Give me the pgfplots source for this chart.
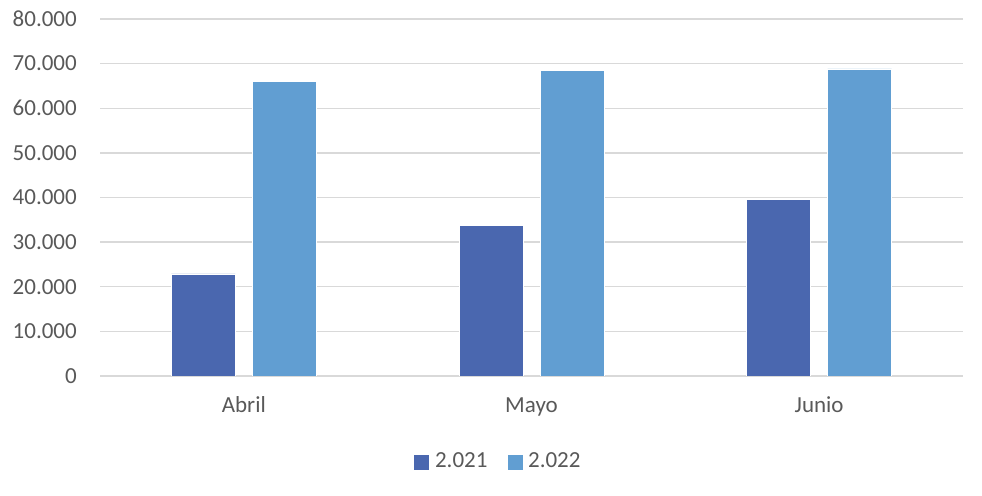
\documentclass[border=0pt]{standalone}
\usepackage{pgfplots}
\pgfplotsset{compat=1.18}
\usepackage{fontspec}
\setmainfont{Carlito}

\definecolor{cA}{HTML}{4A67AF}
\definecolor{cB}{HTML}{619ED2}
\definecolor{gridc}{HTML}{D9D9D9}
\definecolor{txt}{HTML}{595959}

\begin{document}
\begin{tikzpicture}
\useasboundingbox (0,0) rectangle (982bp,496bp);
\begin{axis}[
    at={(100bp,120bp)}, anchor=south west,
    scale only axis,
    width=863bp, height=357bp,
    ybar=17bp, bar width=64bp,
    xmin=-0.5, xmax=2.5,
    ymin=0, ymax=80000,
    xtick={0,1,2},
    xticklabels={Abril,Mayo,Junio},
    ytick={0,10000,...,80000},
    scaled y ticks=false,
    /pgf/number format/1000 sep={.},
    /pgf/number format/assume math mode=true,
    major tick length=0pt,
    axis line style={draw=none},
    ymajorgrids,
    grid style={gridc, line width=1.3bp},
    font=\fontsize{23bp}{27bp}\selectfont,
    tick label style={text=txt},
    yticklabel style={anchor=east, inner sep=0pt, xshift=-23bp},
    xticklabel style={anchor=base, inner sep=0pt, yshift=-37bp},
    legend columns=2,
    legend style={at={(0.4606,-0.238)}, anchor=center, draw=none,
        inner sep=0pt, font=\fontsize{23bp}{27bp}\selectfont, text=txt,
        nodes={inner sep=0pt, text depth=0pt},
        /tikz/every odd column/.append style={column sep=6bp},
        /tikz/every even column/.append style={column sep=20bp}},
]
\addplot[fill=cA, draw=white, line width=0.6bp,
    legend image code/.code={\fill[cA] (0bp,-9.5bp) rectangle (14bp,4.5bp);}]
    coordinates {(0,22900) (1,33800) (2,39500)};
\addplot[fill=cB, draw=white, line width=0.6bp,
    legend image code/.code={\fill[cB] (0bp,-9.5bp) rectangle (14bp,4.5bp);}]
    coordinates {(0,66100) (1,68400) (2,68800)};
\legend{2.021, 2.022}
\end{axis}
\end{tikzpicture}
\end{document}
